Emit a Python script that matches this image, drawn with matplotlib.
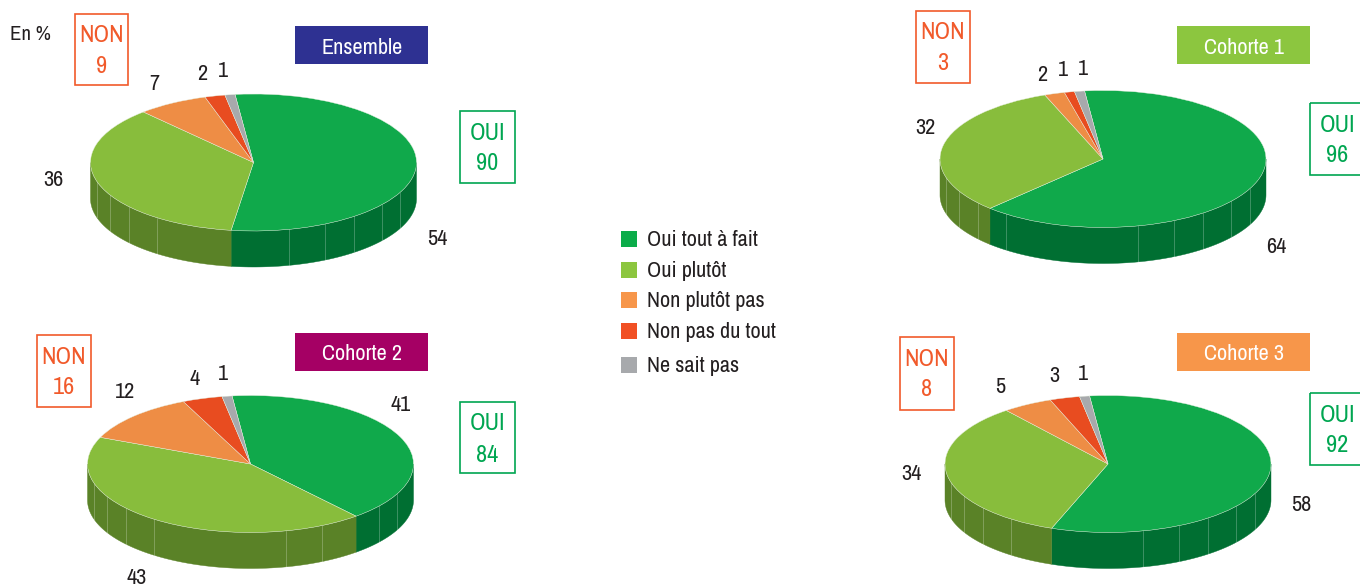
import numpy as np
import matplotlib
matplotlib.use("Agg")
import matplotlib.pyplot as plt
from matplotlib.patches import Rectangle

plt.rcParams['font.family'] = ['Archivo Narrow', 'Roboto Condensed', 'Liberation Sans', 'DejaVu Sans']
plt.rcParams['font.weight'] = 'medium'

categories = ["Oui tout à fait", "Oui plutôt", "Non plutôt pas", "Non pas du tout", "Ne sait pas"]
ensemble = [54, 36, 7, 2, 1]
cohorte1 = [64, 32, 2, 1, 1]
cohorte2 = [41, 43, 12, 4, 1]
cohorte3 = [58, 34, 5, 3, 1]
titles = ["Ensemble", "Cohorte 1", "Cohorte 2", "Cohorte 3"]
oui_totals = [90, 96, 84, 92]
non_totals = [9, 3, 16, 8]

top_colors = ["#10a94b", "#88bd3c", "#ee8d45", "#e84c20", "#a7a9ac"]
side_colors = ["#006f32", "#5a8227", "#b0652c", "#ad3512", "#77797c"]
legend_colors = ["#0bac4a", "#8cc63f", "#f7964a", "#f15024", "#a7a9ac"]
title_colors = ["#2e3192", "#8cc63f", "#a50064", "#f7964a"]
GREEN, RED, INK = "#00a651", "#f15a2b", "#231f20"
W, H = 1360, 586
RX, RY, DEPTH = 163, 68.5, 36
START = 96.5
FACETS = [-26, -38, -52, -64, -77.5, -126.5, -140, -152, -164]

fig = plt.figure(figsize=(W / 100, H / 100), dpi=100)
page = fig.add_axes([0, 0, 1, 1], zorder=5)
page.set_xlim(0, W); page.set_ylim(H, 0); page.axis("off"); page.patch.set_alpha(0)


def pie3d(values, cx, cy):
    m = 1.03
    left, right = cx - RX * m, cx + RX * m
    top, bottom = cy - RY * m, cy + RY + DEPTH + 3
    ax = fig.add_axes([left / W, 1 - bottom / H, (right - left) / W, (bottom - top) / H])
    d = DEPTH / RY
    a = START
    total = sum(values)
    bounds = []
    for v, sc in zip(values, side_colors):
        b = a - 360 * v / total
        bounds.append(b)
        for off in (0, -360):
            l, h = max(b - off, -180), min(a - off, 0)
            if h > l:
                t = np.radians(np.linspace(l, h, 80))
                x, y = np.cos(t), np.sin(t)
                ax.fill(np.r_[x, x[::-1]], np.r_[y, y[::-1] - d], color=sc, lw=0.3, zorder=1)
        a = b
    for f in FACETS:
        if min(abs(f - b) for b in bounds) < 4:
            continue
        t = np.radians(f)
        ax.plot([np.cos(t)] * 2, [np.sin(t), np.sin(t) - d], color="white", lw=0.6, alpha=0.28, zorder=2)
    ax.pie(values, startangle=START, counterclock=False, colors=top_colors, radius=1,
           wedgeprops=dict(linewidth=0.3, edgecolor="#e6efe0", zorder=3))
    ax.set_aspect("auto")
    ax.set_xlim(-m, m)
    ax.set_ylim(-1 - (bottom - cy - RY) / RY, m)
    ax.patch.set_alpha(0)
    ax.axis("off")


def box(x0, y0, x1, y1, xc, label, value, color):
    page.add_patch(Rectangle((x0, y0), x1 - x0, y1 - y0, fill=False, ec=color, lw=1.2))
    page.text(xc, y0 + 20, label, color=color, fontsize=17.5, ha="center", va="center_baseline")
    page.text(xc, y0 + 51, str(value), color=color, fontsize=17.5, ha="center", va="center_baseline")


def title(x0, y0, text, color):
    page.add_patch(Rectangle((x0, y0), 133, 38, fc=color, ec="none"))
    page.text(x0 + 67, y0 + 19.5, text, color="white", fontsize=16, ha="center", va="center_baseline")


def labels(values, positions):
    for v, (x, y) in zip(values, positions):
        page.text(x, y, str(v), color=INK, fontsize=16, ha="center", va="center_baseline")


pie3d(ensemble, 253.5, 162.5)
pie3d(cohorte1, 1103, 159)
pie3d(cohorte2, 250.5, 464)
pie3d(cohorte3, 1108, 464)

title(295, 26, titles[0], title_colors[0])
title(1177, 26, titles[1], title_colors[1])
title(295, 333, titles[2], title_colors[2])
title(1177, 333, titles[3], title_colors[3])

box(74.5, 13.5, 128, 85, 102, "NON", non_totals[0], RED)
box(460, 111, 515, 183, 487.5, "OUI", oui_totals[0], GREEN)
box(916, 10.5, 970, 83, 943, "NON", non_totals[1], RED)
box(1310, 103, 1375, 175, 1337.5, "OUI", oui_totals[1], GREEN)
box(37, 335, 91, 407, 64, "NON", non_totals[2], RED)
box(460, 402, 515, 473, 487.5, "OUI", oui_totals[2], GREEN)
box(900, 337, 954, 410, 927, "NON", non_totals[3], RED)
box(1310, 393, 1375, 465, 1337.5, "OUI", oui_totals[3], GREEN)

labels(ensemble, [(437, 237), (53, 178), (154, 82), (202, 72), (223, 69)])
labels(cohorte1, [(1276, 245), (925, 126), (1042, 73), (1063, 68), (1083, 67)])
labels(cohorte2, [(401, 403), (137, 576), (125, 390), (195, 377), (223, 372)])
labels(cohorte3, [(1301, 503), (911, 472), (1000, 385), (1054, 374), (1083, 372)])

page.text(10, 32, "En %", color=INK, fontsize=15, ha="left", va="center_baseline")

legend_y = [238.5, 270, 300, 331, 364.5]
for name, c, y in zip(categories, legend_colors, legend_y):
    page.add_patch(Rectangle((621, y - 8), 16, 16, fc=c, ec="none"))
    page.text(647, y - 1, name, color=INK, fontsize=16, ha="left", va="center_baseline")

fig.savefig("out.png", dpi=100, facecolor="white")
